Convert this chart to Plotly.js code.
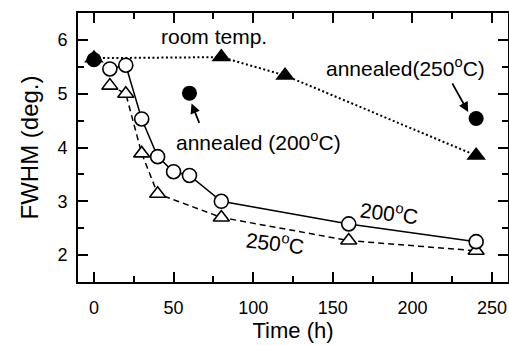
<!DOCTYPE html>
<html>
<head>
<meta charset="utf-8">
<script src="https://cdn.plot.ly/plotly-3.0.1.min.js"></script>
<style>html,body{margin:0;padding:0;background:#fff;}</style>
</head>
<body>
<div id="chart" style="width:509px;height:345px;"></div>
<script>
// Room temperature (filled triangles, dotted line)
const roomX = [0, 80, 120, 240];
const roomY = [5.66, 5.68, 5.34, 3.85];
// Annealed at 250 °C (open triangles, dashed line)
const a250X = [10, 20, 30, 40, 80, 160, 240];
const a250Y = [5.15, 5.0, 3.89, 3.14, 2.70, 2.27, 2.08];
// Annealed at 200 °C (open circles, solid line)
const a200X = [10, 20, 30, 40, 50, 60, 80, 160, 240];
const a200Y = [5.46, 5.53, 4.53, 3.83, 3.55, 3.48, 3.0, 2.58, 2.25];
// Single annealed measurements (filled circles)
const annX = [0, 60, 240];
const annY = [5.63, 5.01, 4.54];

const FONT = "'Liberation Sans', Arial, Helvetica, sans-serif";

const traces = [
  {x: roomX, y: roomY, mode: 'lines+markers', type: 'scatter',
   line: {color: '#000', width: 2, dash: '2px,2.5px'},
   marker: {symbol: 'triangle-up', size: 17, color: '#000'}},
  {x: a250X, y: a250Y, mode: 'lines+markers', type: 'scatter',
   line: {color: '#000', width: 1.5, dash: '6px,4px'},
   marker: {symbol: 'triangle-up', size: 14, color: '#fff', line: {color: '#000', width: 1.6}}},
  {x: a200X, y: a200Y, mode: 'lines+markers', type: 'scatter',
   line: {color: '#000', width: 1.5},
   marker: {symbol: 'circle', size: 14, color: '#fff', line: {color: '#000', width: 1.6}}},
  {x: annX, y: annY, mode: 'markers', type: 'scatter',
   marker: {symbol: 'circle', size: 15, color: '#000'}}
];

const annFont = {family: FONT, size: 21, color: '#000'};
const layout = {
  width: 509, height: 345,
  margin: {l: 78, r: 1, t: 13, b: 63},
  paper_bgcolor: '#fff', plot_bgcolor: '#fff',
  showlegend: false,
  font: {family: FONT, color: '#000'},
  xaxis: {
    range: [-10, 260], dtick: 50, tick0: 0,
    ticks: 'inside', ticklen: 10, tickwidth: 2, tickcolor: '#000',
    minor: {dtick: 25, ticks: 'inside', ticklen: 6, tickwidth: 2, tickcolor: '#000'},
    showline: true, linewidth: 2, linecolor: '#000', mirror: 'ticks',
    showgrid: false, zeroline: false,
    tickfont: {family: FONT, size: 18, color: '#000'},
    ticklabelstandoff: 8,
    title: {text: 'Time (h)', font: {family: FONT, size: 22, color: '#000'}, standoff: 4}
  },
  yaxis: {
    range: [1.5, 6.5], dtick: 1, tick0: 0,
    ticks: 'inside', ticklen: 10, tickwidth: 2, tickcolor: '#000',
    minor: {dtick: 0.5, ticks: 'inside', ticklen: 6, tickwidth: 2, tickcolor: '#000'},
    showline: true, linewidth: 2, linecolor: '#000', mirror: 'ticks',
    showgrid: false, zeroline: false,
    tickfont: {family: FONT, size: 18, color: '#000'},
    ticklabelstandoff: 5,
    title: {text: 'FWHM (deg.)', font: {family: FONT, size: 24, color: '#000'}, standoff: 12}
  },
  annotations: [
    {x: 75.3, y: 6.06, xref: 'x', yref: 'y', text: 'room temp.', showarrow: false, font: annFont},
    {x: 103.3, y: 4.12, xref: 'x', yref: 'y', text: 'annealed (200<sup>o</sup>C)', showarrow: false, font: annFont},
    {x: 195.7, y: 5.50, xref: 'x', yref: 'y', text: 'annealed(250<sup>o</sup>C)', showarrow: false, font: annFont},
    {x: 185.2, y: 2.80, xref: 'x', yref: 'y', text: '200<sup>o</sup>C', showarrow: false, font: annFont, textangle: 7},
    {x: 113.6, y: 2.24, xref: 'x', yref: 'y', text: '250<sup>o</sup>C', showarrow: false, font: annFont, textangle: 7},
    {x: 61.3, y: 4.82, xref: 'x', yref: 'y', ax: 66.5, ay: 4.43, axref: 'x', ayref: 'y',
     text: '', showarrow: true, arrowhead: 2, arrowsize: 1.1, arrowwidth: 1.8, arrowcolor: '#000'},
    {x: 235, y: 4.66, xref: 'x', yref: 'y', ax: 224.5, ay: 5.22, axref: 'x', ayref: 'y',
     text: '', showarrow: true, arrowhead: 2, arrowsize: 1.1, arrowwidth: 1.8, arrowcolor: '#000'}
  ]
};

Plotly.newPlot('chart', traces, layout, {displayModeBar: false, staticPlot: true});
</script>
</body>
</html>
